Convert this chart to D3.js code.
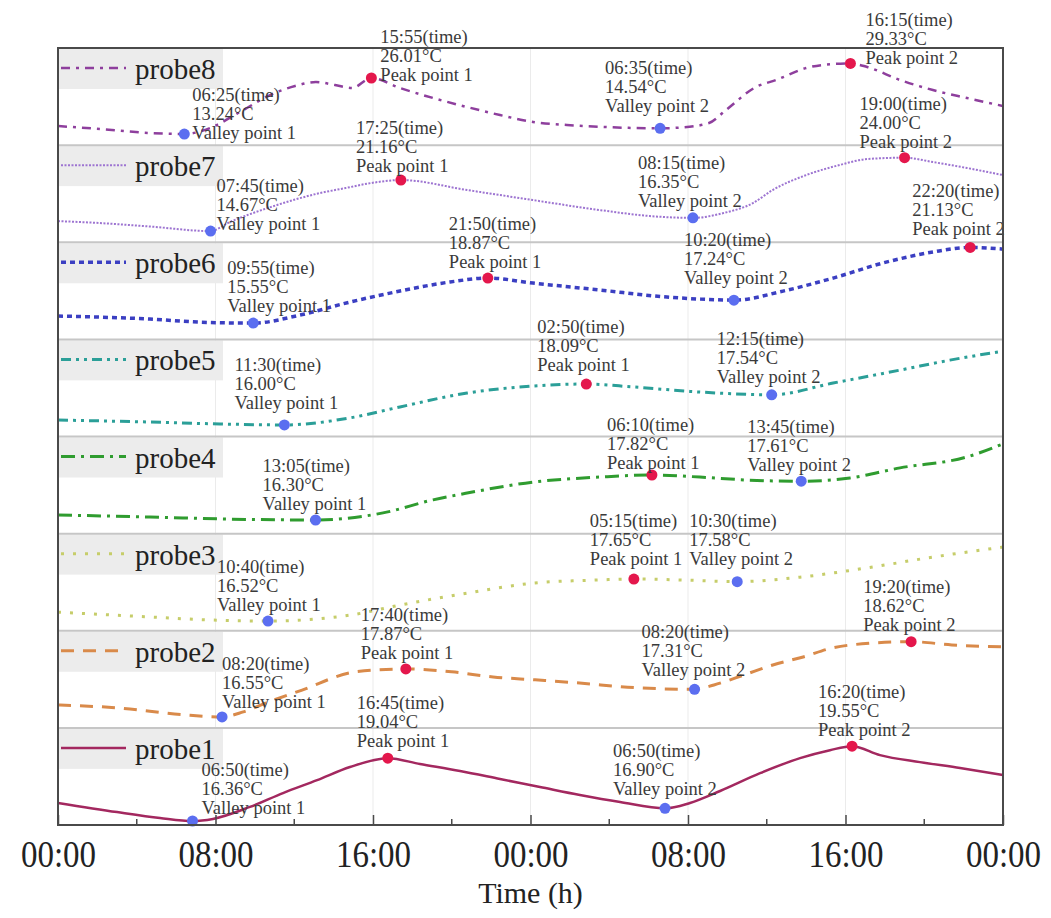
<!DOCTYPE html>
<html>
<head>
<meta charset="utf-8">
<script src="https://cdn.jsdelivr.net/npm/d3@7"></script>
<style>
  body { margin: 0; background: #fff; }
  svg { display: block; font-family: "Liberation Serif", "Times New Roman", serif; }
</style>
</head>
<body>
<svg id="chart" width="1051" height="918"></svg>
<script>
// ---- Data ---------------------------------------------------------------

// Probe names, bottom strip first
const probeNames = ["probe1", "probe2", "probe3", "probe4", "probe5", "probe6", "probe7", "probe8"];

// Time axis in hours from the first midnight, with its tick labels
const timeTicks = [0, 8, 16, 24, 32, 40, 48];
const timeTickLabels = ["00:00", "08:00", "16:00", "00:00", "08:00", "16:00", "00:00"];
const minorTicks = [4, 12, 20, 28, 36, 44];

// Temperature span (°C) covered by each probe's strip
const probe1Range = [16.19, 20.33];
const probe2Range = [16.25, 18.92];
const probe3Range = [16.26, 18.87];
const probe4Range = [15.84, 19.12];
const probe5Range = [15.41, 20.37];
const probe6Range = [14.35, 21.51];
const probe7Range = [13.25, 25.60];
const probe8Range = [10.71, 32.85];

// Temperature records: [hour, °C]
const probe1Curve = [[0, 17.13], [3.0, 16.74], [5.18, 16.49], [7.87, 16.45], [9.75, 16.96], [11.43, 17.55],
  [13.16, 18.10], [14.83, 18.66], [18.39, 18.79], [20.42, 18.49], [22.45, 18.15], [24.48, 17.81],
  [26.51, 17.47], [28.55, 17.17], [32.1, 17.13], [33.63, 17.64], [35.66, 18.40], [37.69, 19.04],
  [39.21, 19.38], [41.75, 19.17], [43.78, 18.87], [45.82, 18.62], [48, 18.32]];
const probe2Curve = [[0, 16.88], [3.0, 16.80], [6.35, 16.61], [9.41, 16.69], [10.69, 16.96], [12.4, 17.29],
  [15.11, 17.79], [20.0, 17.79], [22.1, 17.65], [24.24, 17.57], [26.32, 17.49], [29.49, 17.35],
  [33.32, 17.43], [34.82, 17.70], [36.31, 17.98], [37.85, 18.20], [39.35, 18.45], [40.84, 18.56],
  [45.4, 18.53], [48, 18.48]];
const probe3Curve = [[0, 16.76], [4.67, 16.63], [7.72, 16.55], [14.83, 16.68], [17.37, 16.95], [20.78, 17.27],
  [24.13, 17.54], [27.2, 17.62], [31.9, 17.62], [37.69, 17.70], [41.1, 17.95], [44.44, 18.24], [48, 18.51]];
const probe4Curve = [[0, 16.47], [4.67, 16.40], [8.74, 16.33], [16.51, 16.54], [19.05, 16.98], [20.78, 17.21],
  [24.13, 17.58], [27.53, 17.75], [32.6, 17.75], [35.0, 17.65], [40.23, 17.72], [42.77, 18.06],
  [46.17, 18.43], [48, 18.87]];
const probe5Curve = [[0, 16.25], [4.67, 16.15], [8.23, 16.05], [14.83, 16.36], [17.37, 16.92], [20.78, 17.63],
  [24.13, 17.99], [29.21, 17.94], [32.6, 17.68], [39.37, 18.14], [42.77, 18.80], [45.3, 19.31], [48, 19.77]];
const probe6Curve = [[0, 16.07], [2.13, 15.99], [4.67, 15.85], [7.21, 15.62], [12.29, 16.14], [14.83, 17.10],
  [17.37, 17.91], [19.91, 18.58], [24.13, 18.50], [27.53, 17.99], [30.93, 17.47], [32.6, 17.32],
  [36.83, 17.91], [39.37, 18.87], [41.9, 19.98], [44.44, 20.79], [48, 21.01]];
const probe7Curve = [[0, 15.94], [2.13, 15.69], [4.67, 15.25], [8.72, 15.81], [10.8, 17.72], [13.3, 19.50],
  [14.6, 20.14], [15.9, 20.78], [20.78, 19.89], [24.13, 18.61], [27.53, 17.34], [30.07, 16.58],
  [33.8, 16.96], [35.3, 18.23], [36.3, 19.89], [38.0, 21.79], [39.7, 23.07], [41.1, 23.83],
  [44.44, 23.45], [46.17, 22.69], [48, 21.79]];
const probe8Curve = [[0, 15.06], [2.13, 14.38], [4.67, 13.47], [7.72, 14.61], [9.24, 18.26], [10.77, 22.13],
  [12.04, 24.19], [13.1, 25.10], [14.07, 24.41], [14.93, 23.73], [17.37, 23.73], [19.05, 21.45],
  [20.77, 19.40], [22.45, 17.57], [24.13, 15.98], [25.85, 15.3], [27.53, 14.9], [29.21, 14.62],
  [31.7, 14.75], [33.07, 15.75], [33.93, 18.71], [35.45, 23.96], [36.47, 25.55], [38.0, 28.29],
  [39.37, 29.2], [41.1, 28.52], [42.77, 25.55], [44.44, 23.27], [46.17, 21.45], [48, 19.63]];

// Marked extremes: day (0 = first day), clock time, °C, kind, index
const probe1Extremes = [
  { day: 0, clock: "06:50", temp: 16.36, kind: "Valley", n: 1 },
  { day: 0, clock: "16:45", temp: 19.04, kind: "Peak", n: 1 },
  { day: 1, clock: "06:50", temp: 16.90, kind: "Valley", n: 2 },
  { day: 1, clock: "16:20", temp: 19.55, kind: "Peak", n: 2 }];
const probe2Extremes = [
  { day: 0, clock: "08:20", temp: 16.55, kind: "Valley", n: 1 },
  { day: 0, clock: "17:40", temp: 17.87, kind: "Peak", n: 1 },
  { day: 1, clock: "08:20", temp: 17.31, kind: "Valley", n: 2 },
  { day: 1, clock: "19:20", temp: 18.62, kind: "Peak", n: 2 }];
const probe3Extremes = [
  { day: 0, clock: "10:40", temp: 16.52, kind: "Valley", n: 1 },
  { day: 1, clock: "05:15", temp: 17.65, kind: "Peak", n: 1 },
  { day: 1, clock: "10:30", temp: 17.58, kind: "Valley", n: 2 }];
const probe4Extremes = [
  { day: 0, clock: "13:05", temp: 16.30, kind: "Valley", n: 1 },
  { day: 1, clock: "06:10", temp: 17.82, kind: "Peak", n: 1 },
  { day: 1, clock: "13:45", temp: 17.61, kind: "Valley", n: 2 }];
const probe5Extremes = [
  { day: 0, clock: "11:30", temp: 16.00, kind: "Valley", n: 1 },
  { day: 1, clock: "02:50", temp: 18.09, kind: "Peak", n: 1 },
  { day: 1, clock: "12:15", temp: 17.54, kind: "Valley", n: 2 }];
const probe6Extremes = [
  { day: 0, clock: "09:55", temp: 15.55, kind: "Valley", n: 1 },
  { day: 0, clock: "21:50", temp: 18.87, kind: "Peak", n: 1 },
  { day: 1, clock: "10:20", temp: 17.24, kind: "Valley", n: 2 },
  { day: 1, clock: "22:20", temp: 21.13, kind: "Peak", n: 2 }];
const probe7Extremes = [
  { day: 0, clock: "07:45", temp: 14.67, kind: "Valley", n: 1 },
  { day: 0, clock: "17:25", temp: 21.16, kind: "Peak", n: 1 },
  { day: 1, clock: "08:15", temp: 16.35, kind: "Valley", n: 2 },
  { day: 1, clock: "19:00", temp: 24.00, kind: "Peak", n: 2 }];
const probe8Extremes = [
  { day: 0, clock: "06:25", temp: 13.24, kind: "Valley", n: 1 },
  { day: 0, clock: "15:55", temp: 26.01, kind: "Peak", n: 1 },
  { day: 1, clock: "06:35", temp: 14.54, kind: "Valley", n: 2 },
  { day: 1, clock: "16:15", temp: 29.33, kind: "Peak", n: 2 }];

// ---- Layout and styling --------------------------------------------------

// Annotation placement relative to each marker: [dx, dy of first baseline]
const labelOffsets = [
  [[9, -45], [-31, -49], [-52, -51], [-34, -48]],
  [[0, -47], [-45, -48], [-53, -51], [-48, -49]],
  [[-51, -48], [-44, -52], [-48, -55]],
  [[-53, -48], [-45, -44], [-54, -48]],
  [[-50, -54], [-49, -51], [-55, -50]],
  [[-26, -49], [-39, -48], [-50, -54], [-58, -50]],
  [[6, -39], [-45, -46], [-55, -49], [-45, -48]],
  [[8, -33], [9, -35], [-55, -54], [15, -37]]
];

const lineStyles = [
  { color: "#a3285f", width: 2.5, dash: null },
  { color: "#d98a4a", width: 3, dash: "13,9" },
  { color: "#c6cd6a", width: 3, dash: "3,9" },
  { color: "#2f9c2f", width: 3, dash: "14,6,3,6" },
  { color: "#2b9f98", width: 3, dash: "10,5,3,5,3,5" },
  { color: "#3b3fc2", width: 3.5, dash: "5,4" },
  { color: "#9d74d1", width: 2, dash: "2,1.5" },
  { color: "#8e3f9d", width: 2.5, dash: "9,6,3,6" }
];
const peakColor = "#e4174c";
const valleyColor = "#5b6ef0";

const ranges = [probe1Range, probe2Range, probe3Range, probe4Range, probe5Range, probe6Range, probe7Range, probe8Range];
const curves = [probe1Curve, probe2Curve, probe3Curve, probe4Curve, probe5Curve, probe6Curve, probe7Curve, probe8Curve];
const extremes = [probe1Extremes, probe2Extremes, probe3Extremes, probe4Extremes, probe5Extremes, probe6Extremes, probe7Extremes, probe8Extremes];

// ---- Drawing ------------------------------------------------------------

const plot = { left: 58, right: 1003, top: 48, bottom: 825 };
const nStrips = probeNames.length;
const stripH = (plot.bottom - plot.top) / nStrips;

const svg = d3.select("#chart");
const x = d3.scaleLinear().domain([0, 48]).range([plot.left, plot.right]);

const clockToHour = (e) => {
  const [hh, mm] = e.clock.split(":").map(Number);
  return e.day * 24 + hh + mm / 60;
};

const gBack = svg.append("g");
const gLines = svg.append("g");
const gMarks = svg.append("g");
const gText = svg.append("g");

// faint vertical grid at the major ticks
gBack.selectAll("line.vgrid")
  .data(timeTicks.slice(1, -1))
  .join("line")
  .attr("x1", d => x(d)).attr("x2", d => x(d))
  .attr("y1", plot.top).attr("y2", plot.bottom)
  .attr("stroke", "#ebebeb").attr("stroke-width", 1);

probeNames.forEach((name, k) => {
  const stripTop = plot.top + (nStrips - 1 - k) * stripH;
  const y = d3.scaleLinear().domain(ranges[k]).range([stripTop + stripH, stripTop]);
  const st = lineStyles[k];

  // legend box
  gBack.append("rect")
    .attr("x", plot.left + 1).attr("y", stripTop + 1)
    .attr("width", 164).attr("height", 40)
    .attr("fill", "#ececec");
  gBack.append("line")
    .attr("x1", plot.left + 3).attr("x2", plot.left + 68)
    .attr("y1", stripTop + 20).attr("y2", stripTop + 20)
    .attr("stroke", st.color).attr("stroke-width", st.width)
    .attr("stroke-dasharray", st.dash);
  gBack.append("text")
    .attr("x", plot.left + 77).attr("y", stripTop + 31)
    .attr("font-size", 29).attr("fill", "#222")
    .text(name);

  // separator between strips
  if (k < nStrips - 1) {
    gBack.append("line")
      .attr("x1", plot.left).attr("x2", plot.right)
      .attr("y1", stripTop).attr("y2", stripTop)
      .attr("stroke", "#c6c6c6").attr("stroke-width", 2);
  }

  // temperature curve through the records and the marked extremes
  const marks = extremes[k].map(e => ({ ...e, hour: clockToHour(e) }));
  const pts = curves[k].concat(marks.map(m => [m.hour, m.temp])).sort((a, b) => a[0] - b[0]);
  const line = d3.line().x(d => x(d[0])).y(d => y(d[1])).curve(d3.curveMonotoneX);
  gLines.append("path")
    .datum(pts)
    .attr("d", line)
    .attr("fill", "none")
    .attr("stroke", st.color).attr("stroke-width", st.width)
    .attr("stroke-dasharray", st.dash);

  // extreme markers
  gMarks.selectAll(null)
    .data(marks)
    .join("circle")
    .attr("cx", d => x(d.hour)).attr("cy", d => y(d.temp))
    .attr("r", 5.5)
    .attr("fill", d => d.kind === "Peak" ? peakColor : valleyColor);

  // annotations
  marks.forEach((m, j) => {
    const [dx, dy] = labelOffsets[k][j];
    const g = gText.append("g")
      .attr("transform", `translate(${x(m.hour) + dx},${y(m.temp) + dy})`)
      .attr("font-size", 18.5).attr("fill", "#3a3a3a");
    [`${m.clock}(time)`, `${m.temp.toFixed(2)}°C`, `${m.kind} point ${m.n}`].forEach((t, i) => {
      g.append("text").attr("x", 0).attr("y", i * 19).text(t);
    });
  });
});

// plot frame
svg.append("rect")
  .attr("x", plot.left).attr("y", plot.top)
  .attr("width", plot.right - plot.left).attr("height", plot.bottom - plot.top)
  .attr("fill", "none").attr("stroke", "#4a4a4a").attr("stroke-width", 2);

// time axis with inward ticks
const axis = d3.axisBottom(x)
  .tickValues(timeTicks)
  .tickFormat((d, i) => timeTickLabels[i])
  .tickSizeInner(-10).tickSizeOuter(0);
const gAxis = svg.append("g")
  .attr("transform", `translate(0,${plot.bottom})`)
  .call(axis);
gAxis.select(".domain").remove();
gAxis.selectAll(".tick line").attr("stroke", "#4a4a4a").attr("stroke-width", 1.5);
gAxis.selectAll(".tick text")
  .attr("y", 0).attr("dy", 0)
  .attr("transform", "translate(0,42) scale(1,1.15)")
  .attr("fill", "#222")
  .style("font-family", "'Liberation Serif','Times New Roman',serif")
  .style("font-size", "33px");

svg.append("g")
  .selectAll("line")
  .data(minorTicks)
  .join("line")
  .attr("x1", d => x(d)).attr("x2", d => x(d))
  .attr("y1", plot.bottom).attr("y2", plot.bottom - 6)
  .attr("stroke", "#4a4a4a").attr("stroke-width", 1.5);

svg.append("text")
  .attr("x", (plot.left + plot.right) / 2).attr("y", 903)
  .attr("text-anchor", "middle")
  .attr("font-size", 30).attr("fill", "#222")
  .text("Time (h)");
</script>
</body>
</html>
